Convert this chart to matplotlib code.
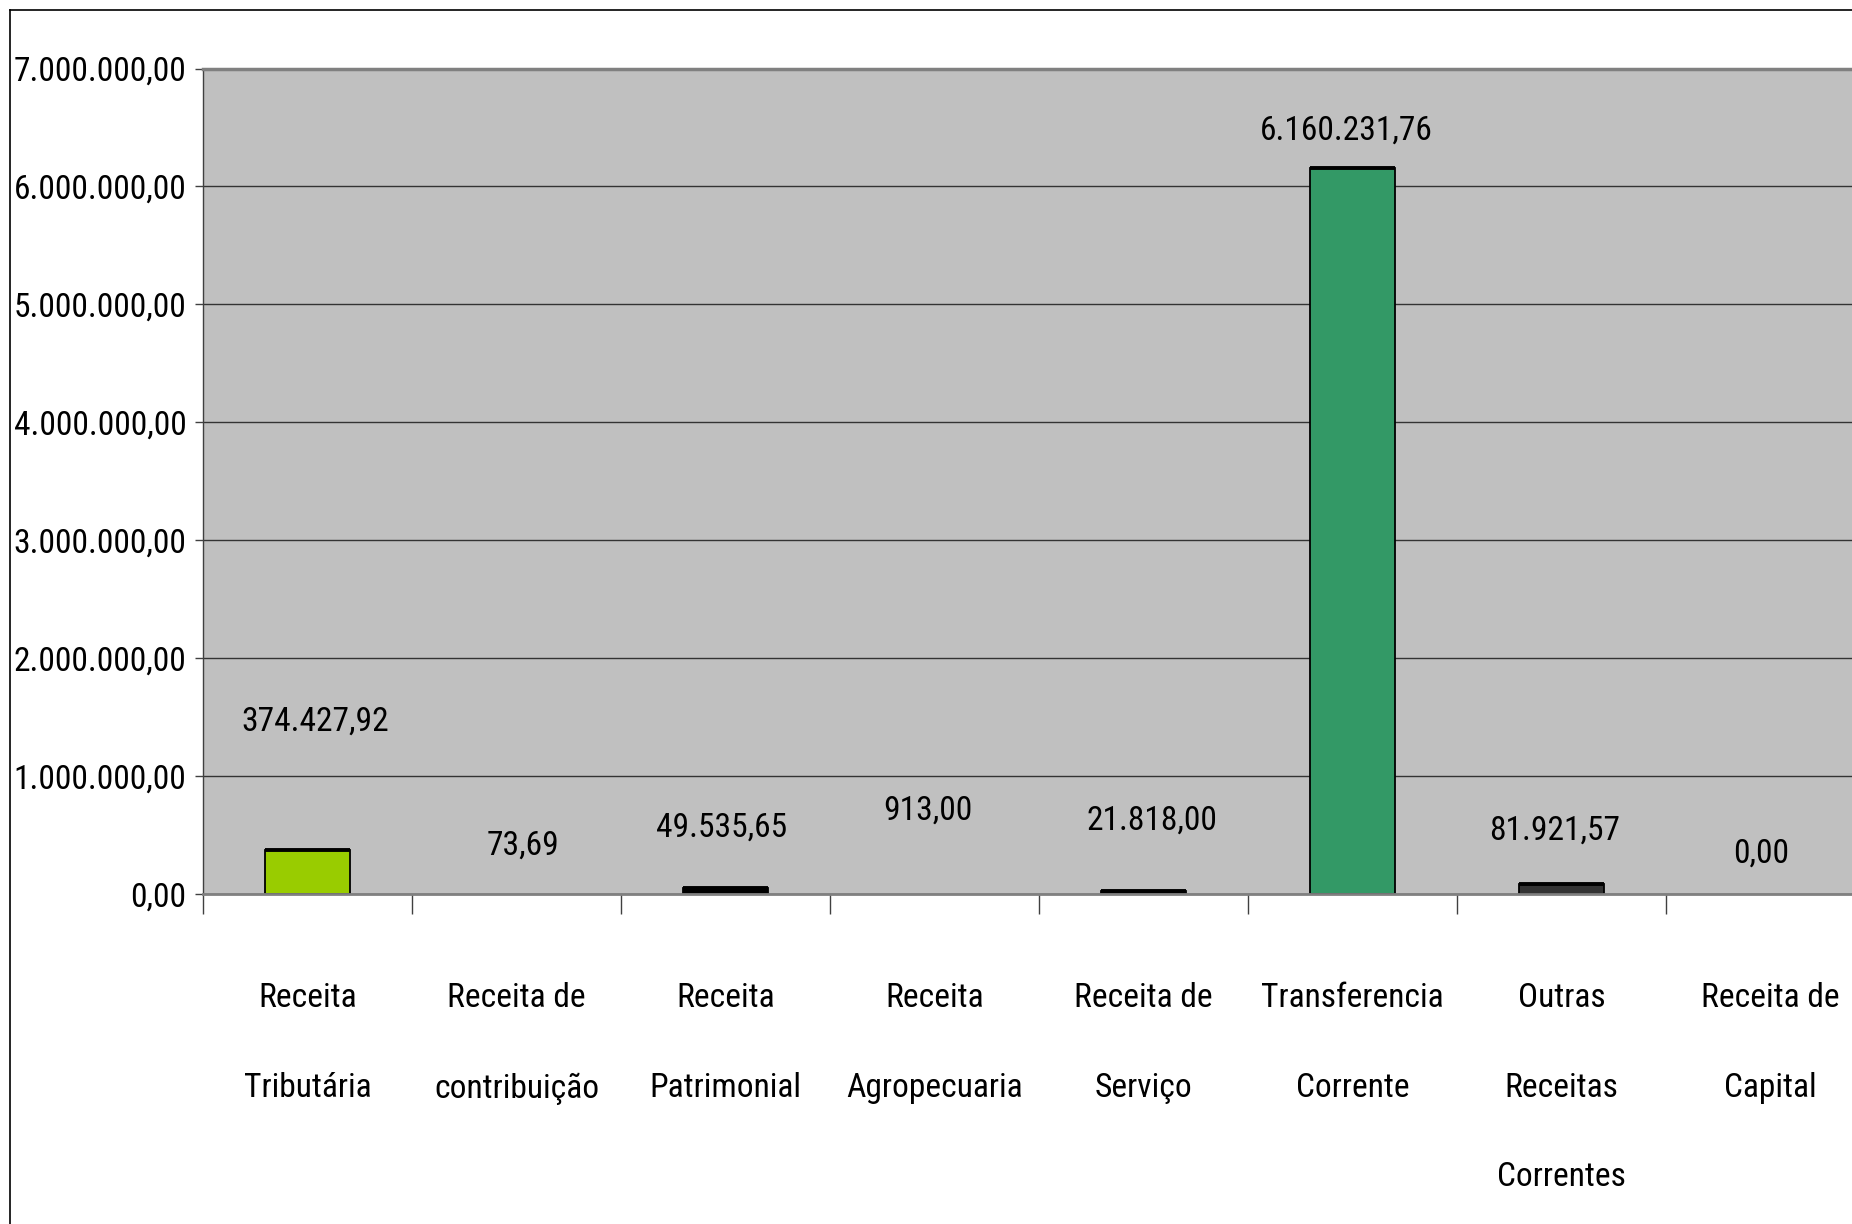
import matplotlib
matplotlib.use('Agg')
import matplotlib.pyplot as plt
from matplotlib import font_manager
from matplotlib.lines import Line2D
from matplotlib.ticker import FuncFormatter

# receitas arrecadadas por categoria
categories = ['Receita\nTributária', 'Receita de\ncontribuição', 'Receita\nPatrimonial',
              'Receita\nAgropecuaria', 'Receita de\nServiço', 'Transferencia\nCorrente',
              'Outras\nReceitas\nCorrentes', 'Receita de\nCapital']
values = [374427.92, 73.69, 49535.65, 913.00, 21818.00, 6160231.76, 81921.57, 0.00]
bar_colors = ['#99CC00', '#FF6600', '#000000', '#993366', '#000000', '#339966', '#333333', '#3366FF']
y_ticks = [0, 1000000, 2000000, 3000000, 4000000, 5000000, 6000000, 7000000]

# hand-placed data labels: pixel nudge from the top of each bar
label_dx = [8, 6, -4, -7, 8, -6, -7, -9]
label_dy = [128, 48, 61, 83, 71, 37, 54, 40]


def br(v):
    s = '{:,.2f}'.format(v)
    return s.replace(',', 'X').replace('.', ',').replace('X', '.')


# source uses a squeezed arial, take a narrow face if one is installed
installed = {f.name for f in font_manager.fontManager.ttflist}
family = 'DejaVu Sans'
for cand in ['Liberation Sans Narrow', 'Roboto Condensed', 'Liberation Sans']:
    if cand in installed:
        family = cand
        break
plt.rcParams['font.family'] = family

fig = plt.figure(figsize=(18.52, 12.24), dpi=100, facecolor='w')

# size the font so the tick label is as wide as in the source (~171 px)
probe = fig.text(0, 0, '7.000.000,00', fontsize=10)
w = probe.get_window_extent(renderer=fig.canvas.get_renderer()).width
probe.remove()
fs = 10 * 171 / w
line_sp = 89 / (0.995 * fs) * 75 / 84

W, H = 1852, 1224
ax = fig.add_axes([203 / W, 1 - 894 / H, 1672 / W, (894 - 68.5) / H])
ax.set_facecolor('#C0C0C0')

x = list(range(len(values)))
big = [v > 5000 for v in values]
ax.bar(x, values, width=0.41, color=bar_colors, edgecolor='black',
       linewidth=[1.3 if b else 0 for b in big], zorder=3)
for i, v in enumerate(values):
    if big[i]:
        ax.plot([i - 0.205, i + 0.205], [v, v], color='black', lw=2.8,
                solid_capstyle='butt', zorder=4)
    ax.annotate(br(v), xy=(i, v), xytext=(label_dx[i], label_dy[i]),
                textcoords='offset pixels', ha='center', va='center',
                fontsize=fs, color='black', zorder=6)

ax.set_xlim(-0.5, 7.5)
ax.set_ylim(0, 7000000)
ax.set_yticks(y_ticks)
ax.yaxis.set_major_formatter(FuncFormatter(lambda v, p: br(v)))
ax.yaxis.grid(True, color='#333333', lw=1.0)
ax.set_axisbelow(True)
ax.tick_params(axis='y', direction='out', length=5.8, width=1, color='#404040',
               pad=6.0, labelsize=fs)

ax.set_xticks([i - 0.5 for i in range(len(values) + 1)])
ax.set_xticks(x, minor=True)
ax.set_xticklabels(categories, minor=True)
ax.tick_params(axis='x', which='major', direction='out', length=14.5, width=1,
               color='#404040', labelbottom=False)
ax.tick_params(axis='x', which='minor', length=0, pad=(100 - fs / 2) * 0.72, labelsize=fs)
for lab in ax.get_xticklabels(minor=True):
    lab.set_linespacing(line_sp)

ax.spines['top'].set_color('#808080')
ax.spines['top'].set_linewidth(2.5)
ax.spines['bottom'].set_color('#808080')
ax.spines['bottom'].set_linewidth(2.0)
ax.spines['bottom'].set_zorder(5)
ax.spines['left'].set_color('#404040')
ax.spines['left'].set_linewidth(1.0)
ax.spines['right'].set_visible(False)

# outer chart frame, cut off at right and bottom
fig.add_artist(Line2D([10 / W, 10 / W], [0, 1 - 10 / H], color='black', lw=1.2,
                      transform=fig.transFigure))
fig.add_artist(Line2D([10 / W, 1], [1 - 10 / H, 1 - 10 / H], color='black', lw=1.2,
                      transform=fig.transFigure))

fig.savefig('out.png', dpi=100)
